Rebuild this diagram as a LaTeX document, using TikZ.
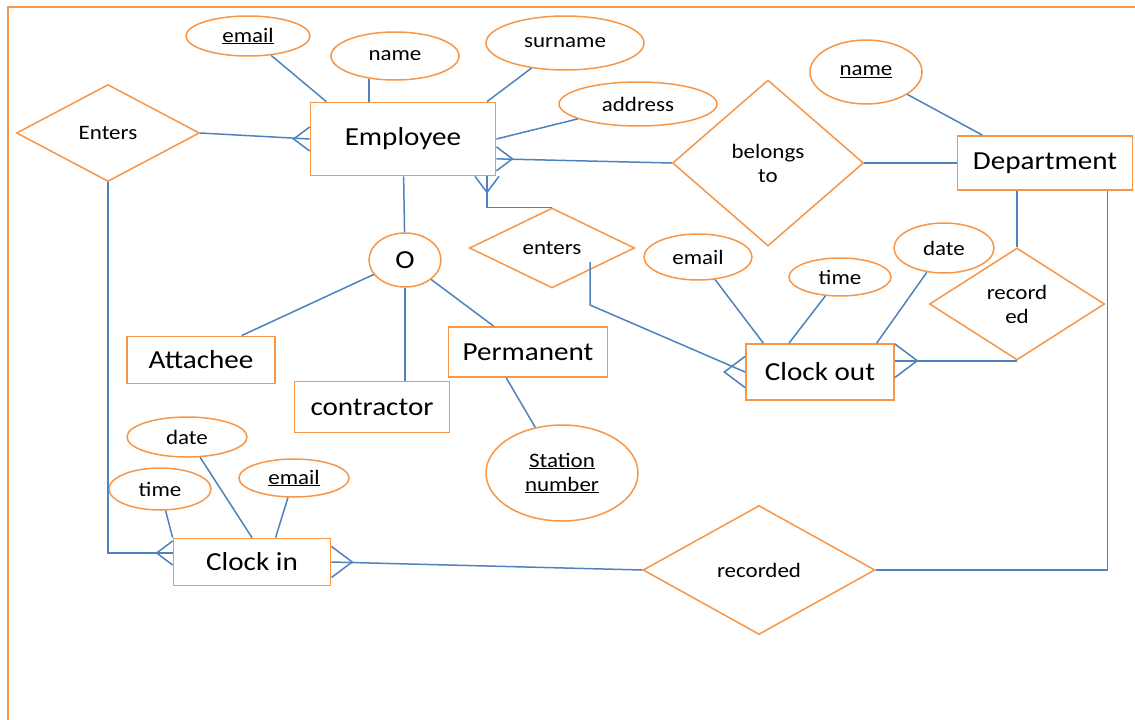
\documentclass[tikz,border=0pt]{standalone}
\usepackage{fontspec}
\setmainfont{Carlito}[FakeStretch=1.12]
\usetikzlibrary{calc}
\usetikzlibrary{positioning}
\usetikzlibrary{shapes.geometric}
\definecolor{erorange}{HTML}{F79646}
\definecolor{erblue}{HTML}{4F81BD}

\begin{document}
\begin{tikzpicture}[x=1pt,y=-1pt,every node/.style = {align=center},
  entity/.style={draw=erorange,line width=1.8pt,rectangle,inner sep=0pt,font=\fontsize{26}{30}\selectfont},
  attr/.style={draw=erorange,line width=1.5pt,ellipse,inner sep=0pt,font=\fontsize{20.5}{24}\selectfont},
  rel/.style={draw=erorange,line width=1.5pt,diamond,inner sep=0pt,font=\fontsize{20.5}{24}\selectfont},
  link/.style={draw=erblue,line width=1.5pt},
  crowfoot/.pic={\draw[link] (0,-12) -- (-16,0) -- (0,12);},
  frame/.style={draw=erorange,line width=1.5pt}]
\useasboundingbox (0,0) rectangle (1135,720);
\draw[frame] (1135,7) -| (8,720);

% entities
\node[entity,minimum width=185pt,minimum height=73pt] (employee) at (403,139) {Employee};
\node[entity,minimum width=175pt,minimum height=54pt] (department) at (1045,163) {Department};
\node[entity,minimum width=148pt,minimum height=47pt] (attachee) at (201,360) {Attachee};
\node[entity,minimum width=155pt,minimum height=51pt] (contractor) at (372,407) {contractor};
\node[entity,minimum width=159pt,minimum height=50pt] (permanent) at (528,352) {Permanent};
\node[entity,minimum width=148pt,minimum height=56pt] (clockout) at (820,372) {Clock out};
\node[entity,minimum width=157pt,minimum height=47pt] (clockin) at (252,562) {Clock in};

% attributes
\node[attr,minimum width=124pt,minimum height=40pt] (empemail) at (248,36) {\underline{email}};
\node[attr,minimum width=128pt,minimum height=48pt] (empname) at (395,56) {name};
\node[attr,minimum width=158pt,minimum height=54pt] (empsurname) at (565,43) {surname};
\node[attr,minimum width=158pt,minimum height=44pt] (empaddress) at (638,104) {address};
\node[attr,minimum width=112pt,minimum height=64pt] (deptname) at (866,72) {\underline{name}};
\node[attr,minimum width=72pt,minimum height=54pt,font=\fontsize{26}{30}\selectfont] (disjoint) at (405,260) {O};
\node[attr,minimum width=108pt,minimum height=46pt] (outemail) at (698,257) {email};
\node[attr,minimum width=102pt,minimum height=38pt] (outtime) at (840,277) {time};
\node[attr,minimum width=100pt,minimum height=50pt] (outdate) at (944,248) {date};
\node[attr,minimum width=152pt,minimum height=96pt] (station) at (562,473) {\underline{Station}\\\underline{number}};
\node[attr,minimum width=120pt,minimum height=40pt] (indate) at (187,437) {date};
\node[attr,minimum width=102pt,minimum height=42pt] (intime) at (160,489) {time};
\node[attr,minimum width=110pt,minimum height=38pt] (inemail) at (294,478) {\underline{email}};

% relationships
\node[rel,minimum width=183pt,minimum height=97pt] (empenters) at (108,133) {Enters};
\node[rel,minimum width=191pt,minimum height=166pt] (belongs) at (768,163) {belongs\\to};
\node[rel,minimum width=165pt,minimum height=80pt] (enters) at (552,248) {enters};
\node[rel,minimum width=175pt,minimum height=112pt] (recordout) at (1017,304) {record\\ed};
\node[rel,minimum width=232pt,minimum height=129pt] (recordin) at (759,570) {recorded};

% links
\draw[link] (empemail) -- (employee.154);
\draw[link] (empname.221) -- (empname.221 |- employee.north);
\draw[link] (empsurname) -- (employee.24);
\draw[link] (empaddress) -- (employee.east);
\draw[link] (deptname) -- (department.156);
\draw[link] (employee) -- (disjoint);
\draw[link] (disjoint) -- (attachee.31);
\draw[link] (disjoint) -- (disjoint |- contractor.north);
\draw[link] (disjoint) -- (permanent.143);
\draw[link] (permanent.-130) -- (station);
\draw[link] (belongs.east) -- (department.west);
\draw[link] (recordout.north) -- (recordout.north |- department.south);
\draw[link] (recordin.east) -| (department.-24);
\draw[link] (outemail) -- (clockout.153);
\draw[link] (outtime) -- (clockout.137);
\draw[link] (outdate) -- (clockout.27);
\draw[link] (indate) -- (clockin.north);
\draw[link] (intime) -- (clockin.north west);
\draw[link] (inemail) -- (clockin.46);

% many sides
\draw[link] (empenters.east) -- (employee.west);
\pic at (employee.west) {crowfoot};
\draw[link] (belongs.west) -- (employee.-12);
\pic[rotate=180] at (employee.-12) {crowfoot};
\draw[link] (enters.north) -| (employee.-24);
\pic[rotate=90] at (employee.-24) {crowfoot};
\draw[link] ($(enters)+(38,14)$) -- ++(0,43) -- (clockout.west);
\pic[scale=1.3] at (clockout.west) {crowfoot};
\draw[link] (recordout.south) -- (recordout.south -| clockout.east);
\pic[rotate=180,scale=1.4] at (recordout.south -| clockout.east) {crowfoot};
\draw[link] (recordin.west) -- (clockin.east);
\pic[rotate=180,scale=1.3] at (clockin.east) {crowfoot};
\draw[link] (empenters.south) |- ($(clockin.west)+(0,-9)$);
\pic at ($(clockin.west)+(0,-9)$) {crowfoot};
\end{tikzpicture}
\end{document}
